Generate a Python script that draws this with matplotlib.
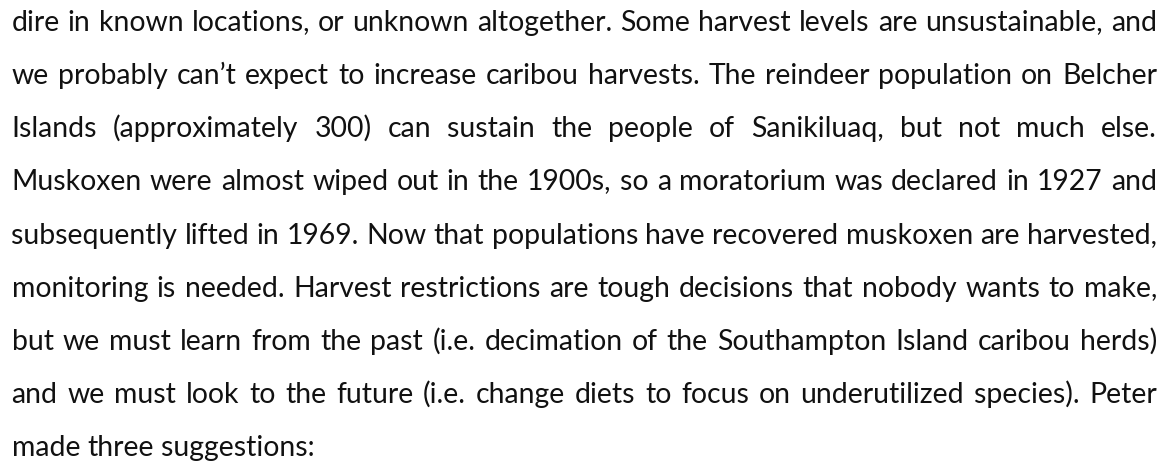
import math
import matplotlib
matplotlib.use("Agg")
import matplotlib.pyplot as plt
from matplotlib.font_manager import FontProperties
from matplotlib.backends.backend_agg import get_hinting_flag

lines = [
    "dire in known locations, or unknown altogether. Some harvest levels are unsustainable, and",
    "we probably can’t expect to increase caribou harvests. The reindeer population on Belcher",
    "Islands (approximately 300) can sustain the people of Sanikiluaq, but not much else.",
    "Muskoxen were almost wiped out in the 1900s, so a moratorium was declared in 1927 and",
    "subsequently lifted in 1969. Now that populations have recovered muskoxen are harvested,",
    "monitoring is needed. Harvest restrictions are tough decisions that nobody wants to make,",
    "but we must learn from the past (i.e. decimation of the Southampton Island caribou herds)",
    "and we must look to the future (i.e. change diets to focus on underutilized species). Peter",
    "made three suggestions:",
]

W, H = 1173, 467
DPI = 100
LEFT, RIGHT = 11.5, 1157.0
LAST_END = 315.0
FIRST_BASE, STEP = 30.7, 53.2
FAMILY = ["Lato", "DejaVu Sans"]
COLOR = "#111111"

fig = plt.figure(figsize=(W / DPI, H / DPI), dpi=DPI)
fig.patch.set_facecolor("white")
renderer = fig.canvas.get_renderer()


def wpx(s, size):
    t = fig.text(0, 0, s, fontsize=size, family=FAMILY)
    w = t.get_window_extent(renderer).width
    t.remove()
    return w


def baseline_y(word, size, target_row):
    """Figure y (0..1) that puts the rendered baseline of *word* exactly on
    pixel row *target_row* (top-down), cancelling Agg's per-text rounding."""
    prop = FontProperties(family=FAMILY, size=size)
    font = renderer._prepare_font(prop)
    font.set_text(word, 0, flags=get_hinting_flag())
    ymin = -font.get_descent()
    _, h26 = font.get_width_height()
    ymax = ymin + h26
    d = -ymin / 64.0
    Y = target_row - math.floor(ymax / 64.0) + (h26 // 64) - d
    return (H - Y) / H


# calibrate font size on the last (unjustified) line
base = 20.0
size = base * (LAST_END - LEFT) / wpx(lines[-1], base)

for i, line in enumerate(lines):
    row = round(FIRST_BASE + STEP * i)
    words = line.split(" ")
    if i == len(lines) - 1:
        ws = [wpx(w, size) for w in words]
        sp = (wpx(line, size) - sum(ws)) / (len(words) - 1)
        gap = sp
    else:
        ws = [wpx(w, size) for w in words]
        gap = (RIGHT - LEFT - sum(ws)) / (len(words) - 1)
    x = LEFT
    for w, wd in zip(words, ws):
        fig.text(x / W, baseline_y(w, size, row), w, fontsize=size,
                 family=FAMILY, color=COLOR, va="baseline", ha="left")
        x += wd + gap

fig.savefig("out.png", dpi=DPI, facecolor="white")
